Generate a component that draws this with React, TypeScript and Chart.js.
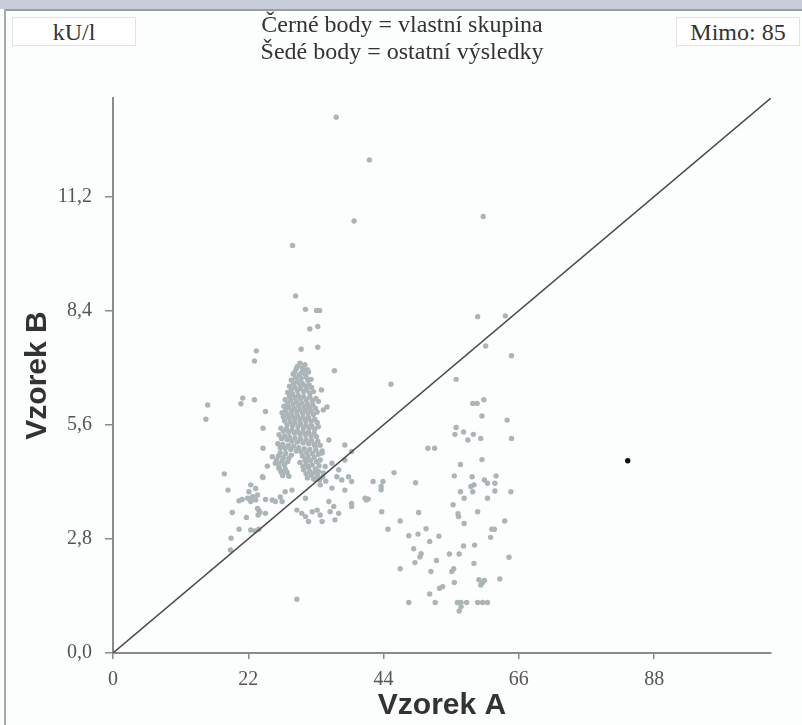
import React, { useEffect, useRef } from "react";
import { Chart, registerables } from "chart.js";

Chart.register(...registerables);

// ---- axis / tick data ----
const xTicks = [0, 22, 44, 66, 88];
const yTicks = [0, 2.8, 5.6, 8.4, 11.2];
const xMax = 107;
const yMax = 13.63;

// reference line (corner to corner)
const diagonalLine: [number, number][] = [
  [0, 0],
  [107, 13.63],
];

// black points = own group
const ownGroupPoints: [number, number][] = [[83.7, 4.72]];

// grey points = other results
const outlierPoints: [number, number][] = [
  [36.3, 13.16], [41.7, 12.11], [39.2, 10.61], [60.2, 10.72], [29.2, 10.01],
  [29.7, 8.77], [31.3, 8.44], [33.1, 8.41], [33.6, 8.41], [33.3, 8.02],
  [32.0, 7.96], [59.3, 8.26], [63.8, 8.28], [29.9, 1.32],
];

const leftClusterPoints: [number, number][] = [
  [15.4, 6.09], [15.1, 5.74], [21.1, 6.26], [20.8, 6.12], [23.0, 6.22], [24.8, 5.93],
  [24.4, 5.52], [24.4, 5.03], [25.1, 4.59], [18.1, 4.4], [18.7, 4.0], [24.4, 4.31],
  [23.3, 7.42], [23.0, 7.17], [30.6, 7.46], [33.3, 7.51], [36.0, 6.93], [33.9, 6.46],
  [34.8, 6.04], [34.2, 5.97],
  [22.4, 4.13], [23.2, 4.04], [22.1, 3.96], [23.5, 3.88], [22.7, 3.84], [21.9, 3.8],
  [20.5, 3.74], [21.0, 3.77], [22.4, 3.72], [23.2, 3.76], [19.4, 3.45], [23.5, 3.55],
  [23.9, 3.45], [23.6, 3.39], [21.7, 3.33], [20.5, 3.04], [22.4, 3.02], [23.1, 3.0],
  [23.7, 3.04], [19.2, 2.82], [19.1, 2.53],
  [24.3, 4.33], [24.8, 3.77], [25.9, 3.76], [26.4, 3.72], [27.2, 3.83], [27.5, 3.72],
  [23.7, 3.51], [24.8, 3.43], [28.0, 3.96], [29.1, 4.0], [31.3, 3.8], [29.9, 3.51],
  [30.7, 3.43], [31.3, 3.35], [32.4, 3.47], [33.2, 3.51], [33.7, 3.39], [31.8, 3.23],
  [34.0, 3.23], [35.1, 3.72], [35.9, 3.6], [35.3, 3.47], [36.7, 3.43], [36.1, 3.27],
  [35.6, 4.05], [37.7, 4.0], [38.8, 3.6], [41.0, 3.8],
  [32.9, 5.07], [35.1, 5.23], [34.0, 4.91], [33.7, 4.74], [34.5, 4.58], [33.4, 4.46],
  [35.6, 4.66], [36.7, 4.5], [37.7, 5.11], [37.7, 4.74], [38.3, 4.33], [38.8, 4.21],
  [36.4, 4.33], [31.3, 4.74], [31.8, 4.58], [32.4, 4.41], [32.9, 4.25], [33.7, 4.13],
  [25.9, 4.82], [26.4, 4.66], [27.0, 4.54], [27.5, 4.41], [38.8, 4.95], [41.2, 3.76],
  [38.8, 3.67], [37.2, 4.25],
];

const denseCorePoints: [number, number][] = [
  [30.4, 7.12], [31.2, 7.08], [29.8, 6.98], [30.9, 6.95], [31.8, 6.9], [29.3, 6.85],
  [30.3, 6.82], [31.4, 6.78], [32.2, 6.72], [29.0, 6.7], [30.0, 6.66], [30.8, 6.62],
  [31.9, 6.58], [28.7, 6.55],
  [29.6, 6.52], [30.5, 6.5], [31.5, 6.46], [32.6, 6.42], [28.4, 6.4], [29.2, 6.36],
  [30.1, 6.33], [31.0, 6.3], [32.0, 6.28], [33.0, 6.25], [28.0, 6.22], [28.9, 6.2],
  [29.8, 6.17], [30.7, 6.14], [31.6, 6.12], [32.5, 6.1], [27.8, 6.06], [28.6, 6.03],
  [29.5, 6.0], [30.4, 5.98], [31.3, 5.96], [32.2, 5.94], [33.2, 5.92],
  [27.5, 5.9], [28.3, 5.87], [29.1, 5.85], [30.0, 5.82], [30.9, 5.8], [31.8, 5.78],
  [32.8, 5.74], [27.9, 5.7], [28.8, 5.68], [29.6, 5.66], [30.5, 5.63], [31.4, 5.6],
  [32.3, 5.58], [33.4, 5.56], [27.3, 5.52], [28.2, 5.5], [29.1, 5.48], [30.0, 5.46],
  [30.9, 5.44], [31.8, 5.42], [32.7, 5.4],
  [27.0, 5.36], [27.9, 5.33], [28.7, 5.3], [29.6, 5.28], [30.5, 5.26], [31.4, 5.24],
  [32.3, 5.22], [33.3, 5.2], [26.8, 5.14], [27.6, 5.12], [28.5, 5.1], [29.4, 5.08],
  [30.2, 5.04], [31.1, 5.02], [32.0, 5.0], [33.0, 4.98], [34.0, 4.96], [27.2, 4.92],
  [28.1, 4.9], [29.0, 4.86], [30.8, 4.84], [31.7, 4.82], [32.7, 4.8],
  [26.6, 4.74], [27.5, 4.72], [28.4, 4.7], [30.4, 4.68], [31.4, 4.64], [32.4, 4.62],
  [33.5, 4.6], [27.0, 4.55], [28.0, 4.52], [31.0, 4.5], [32.0, 4.46], [33.0, 4.44],
  [34.2, 4.42], [27.6, 4.36], [28.6, 4.34], [31.6, 4.3], [32.6, 4.28], [33.6, 4.25],
  [34.6, 4.22],
];

const denseCoreFillPoints: [number, number][] = [
  [30.0, 7.04], [30.8, 7.0], [31.6, 6.96], [29.6, 6.9], [30.6, 6.88], [31.2, 6.86],
  [29.7, 6.76], [30.6, 6.74], [31.7, 6.7], [29.4, 6.62], [30.4, 6.6], [31.3, 6.56],
  [32.3, 6.52], [29.0, 6.46],
  [30.0, 6.44], [31.0, 6.42], [32.0, 6.38], [28.7, 6.3], [29.6, 6.27], [30.5, 6.25],
  [31.4, 6.22], [32.4, 6.2], [33.4, 6.18], [28.4, 6.12], [29.3, 6.1], [30.2, 6.08],
  [31.1, 6.05], [32.0, 6.03], [32.9, 6.01], [28.1, 5.98], [29.0, 5.95], [29.9, 5.92],
  [30.8, 5.9], [31.7, 5.88], [32.6, 5.86], [27.7, 5.8],
  [28.6, 5.78], [29.5, 5.76], [30.4, 5.73], [31.3, 5.71], [32.2, 5.69], [33.2, 5.66],
  [28.3, 5.6], [29.2, 5.58], [30.1, 5.56], [31.0, 5.54], [31.9, 5.52], [32.8, 5.5],
  [27.7, 5.45], [28.6, 5.42], [29.5, 5.4], [30.4, 5.38], [31.3, 5.36], [32.2, 5.33],
  [33.1, 5.31],
  [27.4, 5.26], [28.3, 5.24], [29.1, 5.2], [30.0, 5.18], [30.9, 5.16], [31.8, 5.14],
  [32.7, 5.12], [33.7, 5.1], [27.2, 5.04], [28.0, 5.02], [28.9, 5.0], [29.8, 4.96],
  [30.6, 4.94], [31.5, 4.92], [32.4, 4.9], [33.4, 4.88], [26.9, 4.84], [27.7, 4.8],
  [28.6, 4.78], [31.2, 4.74], [32.1, 4.72], [33.1, 4.7],
  [27.0, 4.64], [27.9, 4.62], [30.9, 4.58], [31.8, 4.55], [32.9, 4.52], [27.3, 4.46],
  [28.3, 4.44], [31.4, 4.4], [32.3, 4.37], [33.3, 4.34], [34.1, 4.32],
];

const rightClusterPoints: [number, number][] = [
  [60.6, 7.54], [64.8, 7.3], [45.2, 6.6], [55.8, 6.72], [58.5, 6.13], [59.2, 6.13],
  [60.3, 6.22], [60.0, 5.82], [64.1, 5.72], [55.8, 5.54], [55.6, 5.37], [57.0, 5.43],
  [57.7, 5.23], [58.6, 5.37], [59.8, 5.27], [64.8, 5.27], [51.2, 5.03], [52.3, 5.03],
  [42.3, 4.21], [43.9, 4.21], [43.6, 4.09], [43.6, 4.01], [45.7, 4.43], [49.2, 4.18],
  [41.5, 3.78], [43.7, 3.47], [46.7, 3.24], [49.7, 3.45], [44.7, 3.04], [48.1, 2.88],
  [49.6, 2.92], [50.9, 3.05], [53.0, 2.87], [51.5, 2.74], [48.9, 2.56], [50.1, 2.44],
  [49.9, 2.36], [49.1, 2.22], [46.7, 2.07], [52.6, 2.27], [51.7, 2.0], [54.7, 2.43],
  [56.3, 2.43], [57.0, 2.63], [58.8, 2.65], [58.7, 2.2], [55.4, 2.07], [55.1, 2.0],
  [55.5, 1.73], [53.6, 1.63], [53.1, 1.59], [51.5, 1.45], [48.1, 1.24], [52.4, 1.24],
  [56.0, 1.24], [56.6, 1.24], [57.5, 1.24], [56.6, 1.14], [56.3, 1.03], [59.3, 1.24],
  [60.1, 1.24], [60.9, 1.24], [59.5, 1.8], [60.1, 1.73], [59.8, 1.67], [60.4, 1.78],
  [62.9, 1.82], [64.4, 2.35], [61.6, 3.04], [62.0, 3.04], [61.4, 2.84], [63.7, 3.24],
  [59.3, 3.47], [57.1, 3.18], [56.2, 3.35], [56.1, 3.42], [55.3, 3.64], [60.9, 3.8],
  [62.1, 3.98], [62.1, 4.17], [64.7, 3.96], [60.4, 4.25], [60.9, 4.17], [62.3, 4.35],
  [58.4, 4.33], [58.7, 4.13], [58.2, 4.09], [58.5, 3.96], [57.1, 3.8], [56.5, 3.96],
  [55.5, 4.35], [56.5, 4.63], [60.0, 4.75],
];

const unitLabel = "kU/l";
const legendLines = ["Černé body = vlastní skupina", "Šedé body = ostatní výsledky"];
const outsideLabel = "Mimo: 85";
const xTitle = "Vzorek A";
const yTitle = "Vzorek B";

const toXY = (arr: [number, number][]) => arr.map(([x, y]) => ({ x, y }));

const serif = '"Liberation Serif", "Times New Roman", serif';
const sans = '"Liberation Sans", Arial, sans-serif';

export default function App() {
  const canvasRef = useRef<HTMLCanvasElement | null>(null);

  useEffect(() => {
    if (!canvasRef.current) return;
    const greyPoints = [
      ...outlierPoints,
      ...leftClusterPoints,
      ...denseCorePoints,
      ...denseCoreFillPoints,
      ...rightClusterPoints,
    ];
    const chart = new Chart(canvasRef.current, {
      type: "scatter",
      data: {
        datasets: [
          {
            type: "line",
            data: toXY(diagonalLine),
            borderColor: "#4a4a4a",
            borderWidth: 1.5,
            pointRadius: 0,
            fill: false,
            order: 0,
          } as any,
          {
            data: toXY(ownGroupPoints),
            backgroundColor: "#111111",
            borderWidth: 0,
            pointRadius: 2.7,
            order: 1,
          },
          {
            data: toXY(greyPoints),
            backgroundColor: "#abb5b8",
            borderWidth: 0,
            pointRadius: 2.7,
            order: 2,
          },
        ],
      },
      options: {
        animation: false,
        responsive: false,
        devicePixelRatio: 1,
        layout: { padding: { top: 98, right: 31, left: 0, bottom: 0 } },
        plugins: {
          legend: { display: false },
          tooltip: { enabled: false },
        },
        scales: {
          x: {
            type: "linear",
            min: 0,
            max: xMax,
            afterBuildTicks: (s: any) => {
              s.ticks = xTicks.map((v) => ({ value: v }));
            },
            afterFit: (s: any) => {
              s.height = 72;
            },
            grid: {
              drawOnChartArea: false,
              drawTicks: true,
              tickLength: 6,
              color: "#8a8a8a",
              lineWidth: 1.5,
            },
            border: { color: "#8a8a8a", width: 2 },
            ticks: {
              font: { family: serif, size: 20 },
              color: "#555555",
              padding: 9,
              maxRotation: 0,
              callback: (v: any) => String(v),
            },
            title: {
              display: true,
              text: xTitle,
              font: { family: sans, size: 30, weight: "bold" },
              color: "#333333",
              padding: { top: 0, bottom: 1 },
            },
          },
          y: {
            type: "linear",
            min: 0,
            max: yMax,
            afterBuildTicks: (s: any) => {
              s.ticks = yTicks.map((v) => ({ value: v }));
            },
            afterFit: (s: any) => {
              s.width = 113;
            },
            grid: {
              drawOnChartArea: false,
              drawTicks: true,
              tickLength: 8,
              color: "#8a8a8a",
              lineWidth: 1.5,
            },
            border: { color: "#8a8a8a", width: 2 },
            ticks: {
              font: { family: serif, size: 20 },
              color: "#555555",
              padding: 13,
              callback: (v: any) => Number(v).toFixed(1).replace(".", ","),
            },
            title: {
              display: true,
              text: yTitle,
              font: { family: sans, size: 30, weight: "bold" },
              color: "#333333",
              padding: { top: 20, bottom: 0 },
            },
          },
        },
      },
    });
    return () => chart.destroy();
  }, []);

  const boxStyle: React.CSSProperties = {
    position: "absolute",
    top: 17,
    height: 29,
    width: 124,
    border: "1px solid #e0e3e6",
    background: "#ffffff",
    boxSizing: "border-box",
    fontFamily: serif,
    fontSize: 24,
    color: "#333",
    display: "flex",
    alignItems: "center",
    justifyContent: "center",
    lineHeight: 1,
  };

  return (
    <div
      style={{
        position: "fixed",
        left: 0,
        top: 0,
        width: 802,
        height: 725,
        background: "#fcfdfd",
        overflow: "hidden",
      }}
    >
      <div style={{ position: "absolute", left: 0, top: 0, width: 802, height: 9, background: "#c8cdd9" }} />
      <div style={{ position: "absolute", left: 4, top: 9, width: 798, height: 2, background: "#9a9ea4" }} />
      <div style={{ position: "absolute", left: 4, top: 9, width: 1.5, height: 716, background: "#a5a9ae" }} />
      <canvas
        ref={canvasRef}
        width={802}
        height={725}
        style={{ position: "absolute", left: 0, top: 0, width: 802, height: 725 }}
      />
      <div style={{ ...boxStyle, left: 12 }}>{unitLabel}</div>
      <div style={{ ...boxStyle, left: 676 }}>{outsideLabel}</div>
      <div
        style={{
          position: "absolute",
          left: 200,
          width: 404,
          top: 11,
          textAlign: "center",
          fontFamily: serif,
          fontSize: 24,
          lineHeight: "27px",
          color: "#333",
        }}
      >
        <div>{legendLines[0]}</div>
        <div>{legendLines[1]}</div>
      </div>
    </div>
  );
}
